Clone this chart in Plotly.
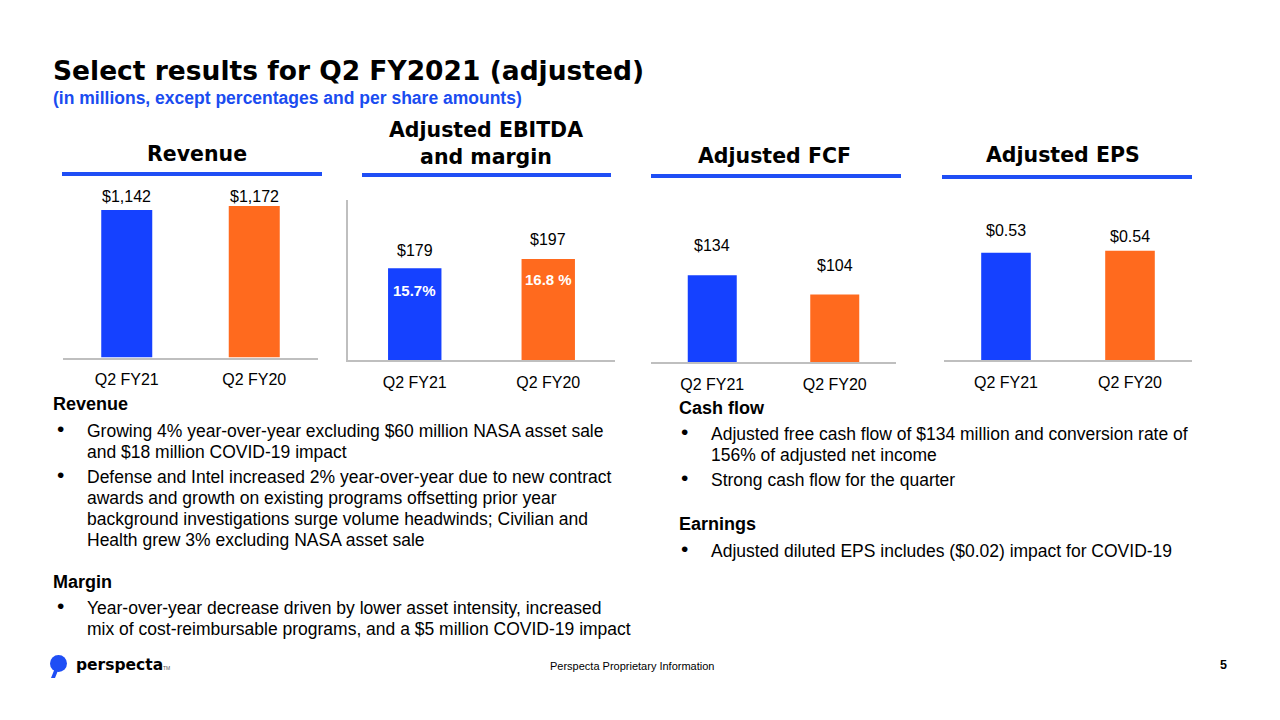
import plotly.graph_objects as go

W, H = 1280, 720

# ---------------- data ----------------
categories = ["Q2 FY21", "Q2 FY20"]
revenue = [1142, 1172]
revenue_labels = ["$1,142", "$1,172"]
ebitda = [179, 197]
ebitda_labels = ["$179", "$197"]
ebitda_margin_labels = ["15.7%", "16.8 %"]
fcf = [134, 104]
fcf_labels = ["$134", "$104"]
eps = [0.53, 0.54]
eps_labels = ["$0.53", "$0.54"]
panel_titles = ["Revenue", "Adjusted EBITDA<br>and margin", "Adjusted FCF", "Adjusted EPS"]

title_text = "Select results for Q2 FY2021 (adjusted)"
subtitle_text = "(in millions, except percentages and per share amounts)"

left_heading_1 = "Revenue"
left_bullets_1 = [
    ["Growing 4% year-over-year excluding $60 million NASA asset sale",
     "and $18 million COVID-19 impact"],
    ["Defense and Intel increased 2% year-over-year due to new contract",
     "awards and growth on existing programs offsetting prior year",
     "background investigations surge volume headwinds; Civilian and",
     "Health grew 3% excluding NASA asset sale"],
]
left_heading_2 = "Margin"
left_bullets_2 = [
    ["Year-over-year decrease driven by lower asset intensity, increased",
     "mix of cost-reimbursable programs, and a $5 million COVID-19 impact"],
]
right_heading_1 = "Cash flow"
right_bullets_1 = [
    ["Adjusted free cash flow of $134 million and conversion rate of",
     "156% of adjusted net income"],
    ["Strong cash flow for the quarter"],
]
right_heading_2 = "Earnings"
right_bullets_2 = [
    ["Adjusted diluted EPS includes ($0.02) impact for COVID-19"],
]
footer_center = "Perspecta Proprietary Information"
page_number = "5"
logo_text = "perspecta"

# ---------------- style ----------------
BLUE = "#1541FF"
ORANGE = "#FF6A1E"
LINE_BLUE = "#1F4EF5"
AXIS_GRAY = "#BFBFBF"
BODY_FONT = "Liberation Sans, Arial, sans-serif"
HEAVY_FONT = "DejaVu Sans, Arial Black, sans-serif"
bar_colors = [BLUE, ORANGE]


def fx(px):
    return px / W


def fy(py):
    return 1 - py / H


# panel geometry: axis x extent, axis baseline y, domain top y, y max
panels = [
    dict(values=revenue, labels=revenue_labels, x0=63, x1=318, yb=357.5, yt=200, ymax=1219,
         shifts=[13, 10], yline=False),
    dict(values=ebitda, labels=ebitda_labels, x0=348, x1=615, yb=360, yt=200, ymax=312,
         shifts=[18, 19], yline=True),
    dict(values=fcf, labels=fcf_labels, x0=651, x1=896, yb=362, yt=200, ymax=250,
         shifts=[30, 29], yline=False),
    dict(values=eps, labels=eps_labels, x0=944, x1=1192, yb=360, yt=200, ymax=0.79,
         shifts=[22, 14], yline=False),
]

fig = go.Figure()
annotations = []
shapes = []
layout_axes = {}

for i, p in enumerate(panels):
    n = i + 1
    xa = "x" if n == 1 else f"x{n}"
    ya = "y" if n == 1 else f"y{n}"
    fig.add_trace(go.Bar(
        x=categories, y=p["values"], marker=dict(color=bar_colors, line=dict(width=0)),
        width=0.4, xaxis=xa, yaxis=ya, showlegend=False, hoverinfo="skip",
    ))
    xkey = "xaxis" if n == 1 else f"xaxis{n}"
    ykey = "yaxis" if n == 1 else f"yaxis{n}"
    layout_axes[xkey] = dict(
        domain=[fx(p["x0"]), fx(p["x1"])], anchor=ya, range=[-0.5, 1.5],
        showline=True, linecolor=AXIS_GRAY, linewidth=1.5, showgrid=False, zeroline=False,
        ticks="", ticklabelstandoff=7,
        tickfont=dict(family=BODY_FONT, size=16, color="#000"), fixedrange=True,
    )
    layout_axes[ykey] = dict(
        domain=[fy(p["yb"]), fy(p["yt"])], anchor=xa, range=[0, p["ymax"]],
        showline=p["yline"], linecolor=AXIS_GRAY, linewidth=1.5, showgrid=False,
        zeroline=False, showticklabels=False, ticks="", fixedrange=True,
    )
    for c, v, lab, sh in zip(categories, p["values"], p["labels"], p["shifts"]):
        annotations.append(dict(
            x=c, y=v, xref=xa, yref=ya, text=lab, showarrow=False,
            yanchor="middle", yshift=sh,
            font=dict(family=BODY_FONT, size=16, color="#000"),
        ))

# margin labels inside EBITDA bars
for c, v, lab, sh in zip(categories, ebitda, ebitda_margin_labels, [-22, -21]):
    annotations.append(dict(
        x=c, y=v, xref="x2", yref="y2", text=f"<b>{lab}</b>", showarrow=False,
        yanchor="middle", yshift=sh,
        font=dict(family=BODY_FONT, size=15, color="#FFFFFF"),
    ))

# panel titles and underlines
title_pos = [(197, 154), (486, 143.5), (774, 156), (1063, 155)]
for t, (cx, cy) in zip(panel_titles, title_pos):
    annotations.append(dict(
        x=fx(cx), y=fy(cy), xref="paper", yref="paper", text=f"<b>{t}</b>",
        showarrow=False, xanchor="center", yanchor="middle",
        font=dict(family=HEAVY_FONT, size=20.5, color="#000"),
    ))
underlines = [(62, 322, 174), (362, 611, 175), (651, 901, 176), (942, 1192, 177)]
for x0, x1, yy in underlines:
    shapes.append(dict(type="line", xref="paper", yref="paper",
                       x0=fx(x0), x1=fx(x1), y0=fy(yy), y1=fy(yy),
                       line=dict(color=LINE_BLUE, width=4)))

# main title / subtitle
annotations.append(dict(
    x=fx(51), y=fy(71), xref="paper", yref="paper", text=f"<b>{title_text}</b>",
    showarrow=False, xanchor="left", yanchor="middle",
    font=dict(family=HEAVY_FONT, size=26.5, color="#000"),
))
annotations.append(dict(
    x=fx(51), y=fy(98), xref="paper", yref="paper", text=f"<b>{subtitle_text}</b>",
    showarrow=False, xanchor="left", yanchor="middle",
    font=dict(family=BODY_FONT, size=17.5, color="#1A4CF0"),
))


def text_at(x, y, txt, size=17.5, bold=False, anchor="left", color="#000", family=BODY_FONT):
    annotations.append(dict(
        x=fx(x), y=fy(y), xref="paper", yref="paper",
        text=f"<b>{txt}</b>" if bold else txt, showarrow=False,
        xanchor=anchor, yanchor="middle",
        font=dict(family=family, size=size, color=color),
    ))


def bullet_block(x_bullet, x_text, y_start, bullets, line_h=21, gap=4):
    y = y_start
    for lines in bullets:
        text_at(x_bullet, y - 3, "•", size=21, anchor="center")
        for ln in lines:
            text_at(x_text, y, ln)
            y += line_h
        y += gap
    return y


# left column
text_at(51, 404, left_heading_1, size=18, bold=True)
bullet_block(60, 85, 431, left_bullets_1)
text_at(51, 582, left_heading_2, size=18, bold=True)
bullet_block(60, 85, 608, left_bullets_2)

# right column
text_at(677, 408, right_heading_1, size=18, bold=True)
bullet_block(684, 709, 434, right_bullets_1)
text_at(677, 524, right_heading_2, size=18, bold=True)
bullet_block(684, 709, 551, right_bullets_2)

# footer
text_at(632, 666, footer_center, size=11, anchor="center")
text_at(1229, 665, page_number, size=12.5, bold=True, anchor="right")
text_at(74, 665, logo_text, size=15.5, bold=True, family=HEAVY_FONT)
text_at(161, 668, "TM", size=5, color="#555")
# logo mark
shapes.append(dict(type="circle", xref="paper", yref="paper",
                   x0=fx(50), x1=fx(67), y0=fy(672), y1=fy(655),
                   fillcolor=LINE_BLUE, line=dict(width=0)))
shapes.append(dict(type="path", xref="paper", yref="paper",
                   path=f"M {fx(55)},{fy(668)} L {fx(59)},{fy(668)} L {fx(55)},{fy(678)} L {fx(51)},{fy(678)} Z",
                   fillcolor=LINE_BLUE, line=dict(width=0)))

fig.update_layout(
    width=W, height=H, margin=dict(l=0, r=0, t=0, b=0),
    paper_bgcolor="#FFFFFF", plot_bgcolor="rgba(0,0,0,0)",
    annotations=annotations, shapes=shapes, showlegend=False,
    **layout_axes,
)

fig.write_html("out.html", config={"displayModeBar": False},
               post_script="document.body.style.margin='0';document.body.style.overflow='hidden';")
